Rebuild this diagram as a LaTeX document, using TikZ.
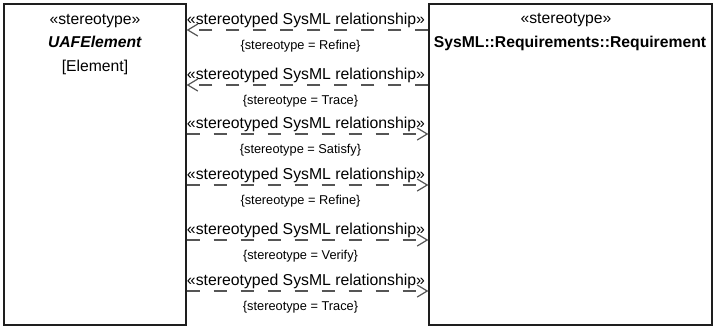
\documentclass[tikz,border=0pt]{standalone}
\usepackage{fontspec}
\setmainfont{Liberation Sans}
\usetikzlibrary{arrows.meta,calc}
\definecolor{boxline}{RGB}{30,30,30}
\definecolor{relline}{RGB}{85,85,85}
\begin{document}
\begin{tikzpicture}[x=1pt,y=-1pt,
  box/.style={draw=boxline, line width=1.3pt, inner sep=0pt},
  rel/.style={draw=relline, line width=1.2pt, dash pattern=on 13pt off 14pt, -{Straight Barb[length=10pt,width=12pt]}},
  boxtxt/.style={font=\fontsize{15.7}{18}\selectfont, anchor=base, inner sep=0pt},
  toplbl/.style={font=\fontsize{15.8}{19}\selectfont, anchor=base, inner sep=0pt},
  botlbl/.style={font=\fontsize{12.8}{15}\selectfont, anchor=base, inner sep=0pt}]
\useasboundingbox (0,0) rectangle (715,327);
\node[box, minimum width=182pt, minimum height=321pt] (L) at (95,164.5) {};
\node[box, minimum width=283pt, minimum height=321pt] (R) at (570.5,164.5) {};
\node[boxtxt] (Ls) at (95,24) {«stereotype»};
\node[boxtxt] (Ln) at (95,47) {\textbf{\textit{UAFElement}}};
\node[boxtxt] (Le) at (95,71) {[Element]};
\node[boxtxt] (Rs) at (566,23) {«stereotype»};
\node[boxtxt] (Rn) at (570,47) {\textbf{SysML::Requirements::Requirement}};
\foreach \i/\y/\st/\dir in {1/30/Refine/rl,2/85/Trace/rl,3/134/Satisfy/lr,4/185/Refine/lr,5/240/Verify/lr,6/291/Trace/lr}{
  \coordinate (y\i) at (0,\y);
  \node[toplbl] (a\i) at (306,\y-6) {«stereotyped SysML relationship»};
  \node[botlbl] (b\i) at (300.5,\y+19) {\{stereotype = \st\}};
  \ifnum\pdfstrcmp{\dir}{rl}=0
    \draw[rel] (R.west |- y\i) -- (L.east |- y\i);
  \else
    \draw[rel] (L.east |- y\i) -- (R.west |- y\i);
  \fi
}
\end{tikzpicture}
\end{document}
